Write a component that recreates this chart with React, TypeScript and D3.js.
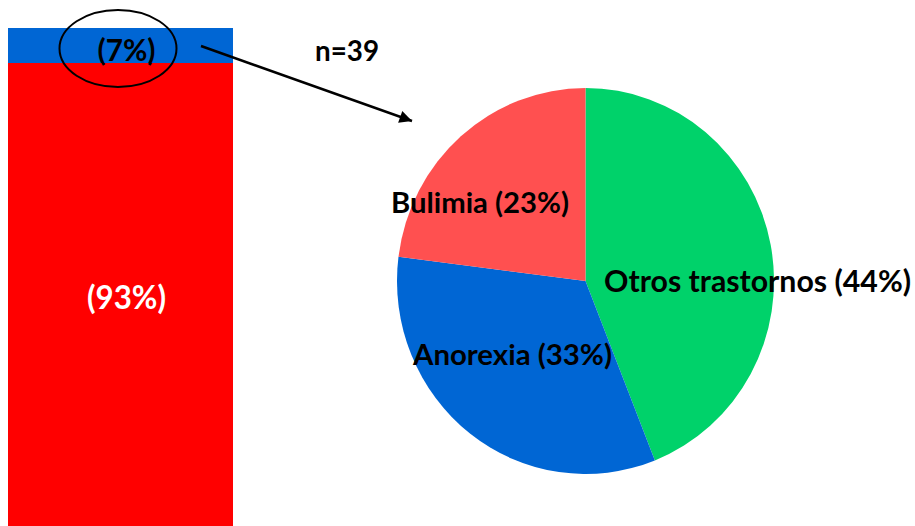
import React from "react";
import * as d3 from "d3";

const barCategories = ["Otros", "TCA"];
const barValues = [93, 7];
const barLabels = ["(93%)", "(7%)"];

const pieCategories = ["Otros trastornos", "Anorexia", "Bulimia"];
const pieValues = [44, 33, 23];
const pieLabels = ["Otros trastornos (44%)", "Anorexia (33%)", "Bulimia (23%)"];
const sampleLabel = "n=39";

const W = 915;
const H = 526;
const FONT = "Lato, 'Open Sans', sans-serif";

export default function App() {
  // stacked bar
  const y = d3.scaleLinear().domain([0, 100]).range([528, 28]);
  const x = d3.scaleBand().domain(["bar"]).range([8, 233]).padding(0);
  const stacked: { cat: string; y0: number; y1: number; label: string }[] = [];
  let acc = 0;
  barValues.forEach((v, i) => {
    stacked.push({ cat: barCategories[i], y0: acc, y1: acc + v, label: barLabels[i] });
    acc += v;
  });
  const barColors = ["#FF0000", "#0066D4"];
  const bx = x("bar") as number;
  const bw = x.bandwidth();

  // pie
  const cx = 585.5, cy = 281, rx = 188.5, ry = 193;
  const pie = d3.pie<number>().sort(null).value((d) => d).startAngle(0).endAngle(2 * Math.PI);
  const arcs = pie(pieValues);
  const arc = d3.arc<d3.PieArcDatum<number>>().innerRadius(0).outerRadius(ry);
  const pieColors = ["#00D26A", "#0066D4", "#FF5050"];
  // label anchor offsets relative to pie centre (centre of text, baseline)
  const labelPos = [
    { dx: 172, dy: 11, w: 307 },
    { dx: -73, dy: 84, w: 199 },
    { dx: -105.5, dy: -68, w: 178 },
  ];

  const blueTop = stacked[1];
  const ellipseCx = bx + bw / 2 - 2.5;
  const ellipseCy = (y(blueTop.y0) + y(blueTop.y1)) / 2 + 3;

  return (
    <svg width={W} height={H} style={{ position: "absolute", left: 0, top: 0, background: "#fff" }}>
      <defs>
        <marker id="ah" viewBox="0 0 10 10" refX="10" refY="5" markerWidth="6.5" markerHeight="5" orient="auto" markerUnits="strokeWidth">
          <path d="M0,0 L10,5 L0,10 z" fill="#000" />
        </marker>
      </defs>
      {stacked.map((s, i) => (
        <rect key={s.cat} x={bx} y={y(s.y1)} width={bw} height={y(s.y0) - y(s.y1)} fill={barColors[i]} />
      ))}
      <text x={bx + bw / 2 + 6} y={309} textAnchor="middle" fill="#fff" fontFamily={FONT} fontWeight={700} fontSize={32} textLength={79} lengthAdjust="spacingAndGlyphs">
        {stacked[0].label}
      </text>
      <text x={ellipseCx + 8.5} y={61} textAnchor="middle" fill="#000" fontFamily={FONT} fontWeight={700} fontSize={31} textLength={58} lengthAdjust="spacingAndGlyphs">
        {stacked[1].label}
      </text>
      <ellipse cx={ellipseCx} cy={ellipseCy} rx={58.5} ry={38.5} fill="none" stroke="#000" strokeWidth={2} />
      <line x1={201} y1={46} x2={412} y2={121} stroke="#000" strokeWidth={2.5} markerEnd="url(#ah)" />
      <text x={347} y={61} textAnchor="middle" fill="#000" fontFamily={FONT} fontWeight={700} fontSize={28} textLength={64} lengthAdjust="spacingAndGlyphs">
        {sampleLabel}
      </text>

      <g transform={`translate(${cx},${cy}) scale(${rx / ry},1)`}>
        {arcs.map((a, i) => (
          <path key={pieCategories[i]} d={arc(a) as string} fill={pieColors[i]} />
        ))}
      </g>
      {arcs.map((a, i) => (
        <text
          key={pieCategories[i]}
          x={cx + labelPos[i].dx}
          y={cy + labelPos[i].dy}
          textAnchor="middle"
          fill="#000"
          fontFamily={FONT}
          fontWeight={700}
          fontSize={i === 0 ? 30 : 29}
          textLength={labelPos[i].w}
          lengthAdjust="spacingAndGlyphs"
        >
          {pieLabels[i]}
        </text>
      ))}
    </svg>
  );
}
